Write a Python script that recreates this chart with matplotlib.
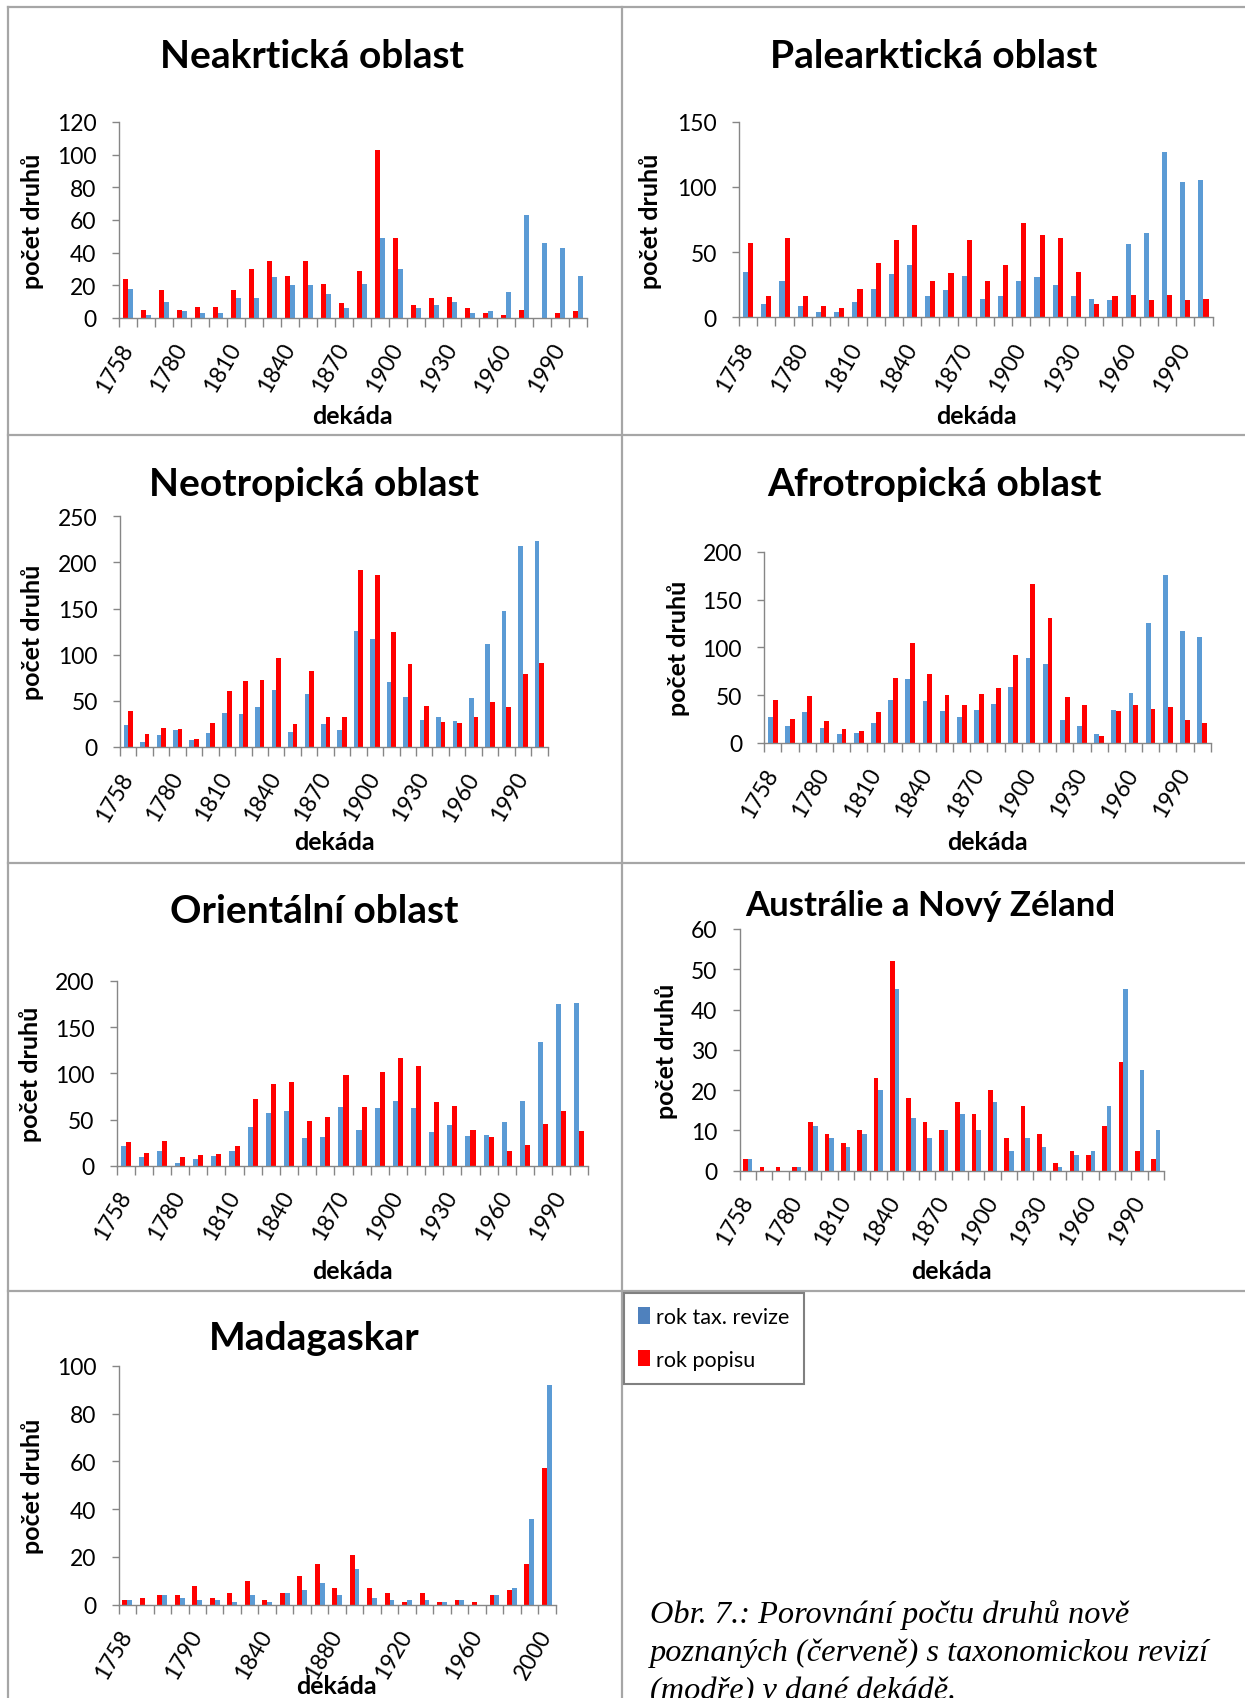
import numpy as np
import matplotlib.pyplot as plt
from matplotlib.lines import Line2D
from matplotlib.patches import Patch

W, H = 1245, 1699
plt.rcParams['font.family'] = ['Lato', 'DejaVu Sans']

# kategorie (dekády)
decades = ['1758', '1760', '1770', '1780', '1790', '1800', '1810', '1820', '1830',
           '1840', '1850', '1860', '1870', '1880', '1890', '1900', '1910', '1920',
           '1930', '1940', '1950', '1960', '1970', '1980', '1990', '2000']
mad_decades = ['1758', '1760', '1770', '1780', '1790', '1800', '1810', '1830', '1840',
               '1850', '1860', '1870', '1880', '1890', '1900', '1910', '1920', '1930',
               '1940', '1950', '1960', '1970', '1980', '1990', '2000']

# rok popisu (červeně) / rok tax. revize (modře)
neark_popis = [24, 5, 17, 5, 7, 7, 17, 30, 35, 26, 35, 21, 9, 29, 103, 49, 8, 12, 13, 6, 3, 2, 5, 0, 3, 4]
neark_revize = [18, 2, 10, 4, 3, 3, 12, 12, 25, 20, 20, 15, 6, 21, 49, 30, 6, 8, 10, 3, 4, 16, 63, 46, 43, 26]

pale_revize = [35, 10, 28, 9, 4, 4, 12, 22, 33, 40, 16, 21, 32, 14, 16, 28, 31, 25, 16, 14, 13, 56, 65, 127, 104, 105]
pale_popis = [57, 16, 61, 16, 9, 7, 22, 42, 59, 71, 28, 34, 59, 28, 40, 72, 63, 61, 35, 10, 16, 17, 13, 17, 13, 14]

neot_revize = [24, 5, 13, 18, 8, 15, 37, 36, 43, 62, 16, 57, 25, 18, 126, 117, 70, 54, 29, 33, 28, 53, 112, 147, 218, 223]
neot_popis = [39, 14, 21, 20, 9, 26, 61, 71, 73, 96, 25, 82, 33, 33, 192, 186, 125, 90, 44, 27, 26, 33, 49, 43, 79, 91]

afro_revize = [27, 18, 32, 16, 9, 10, 21, 45, 67, 44, 33, 27, 34, 41, 59, 89, 83, 24, 18, 9, 35, 52, 125, 176, 117, 111]
afro_popis = [45, 25, 49, 23, 15, 13, 32, 68, 105, 72, 50, 40, 51, 58, 92, 166, 131, 48, 40, 7, 33, 40, 36, 38, 24, 21]

orient_revize = [21, 9, 16, 3, 7, 11, 16, 42, 57, 59, 30, 31, 64, 39, 62, 70, 62, 37, 44, 32, 33, 47, 70, 134, 175, 176]
orient_popis = [26, 14, 27, 9, 12, 13, 21, 72, 89, 91, 48, 53, 98, 64, 101, 117, 108, 69, 65, 39, 31, 16, 22, 45, 59, 38]

aus_popis = [3, 1, 1, 1, 12, 9, 7, 10, 23, 52, 18, 12, 10, 17, 14, 20, 8, 16, 9, 2, 5, 4, 11, 27, 5, 3]
aus_revize = [3, 0, 0, 1, 11, 8, 6, 9, 20, 45, 13, 8, 10, 14, 10, 17, 5, 8, 6, 1, 4, 5, 16, 45, 25, 10]

mad_popis = [2, 3, 4, 4, 8, 3, 5, 10, 2, 5, 12, 17, 7, 21, 7, 5, 1, 5, 1, 2, 1, 4, 6, 17, 57]
mad_revize = [2, 0, 4, 3, 2, 2, 1, 4, 1, 5, 6, 9, 4, 15, 3, 2, 2, 2, 1, 2, 0, 4, 7, 36, 92]

BLUE = '#5B9BD5'
RED = '#FF0000'
AXC = '#868686'
BORDER = '#A6A6A6'

fig = plt.figure(figsize=(W / 100, H / 100), dpi=100)


def fx(x):
    return x / W


def fy(y):
    return 1 - y / H


def panel(box, cats, first, second, colors, ymax, ystep, every):
    left, top, right, bottom = box
    ax = fig.add_axes([fx(left), fy(bottom), (right - left) / W, (bottom - top) / H])
    n = len(cats)
    x = np.arange(n)
    w = 0.28
    ax.bar(x - w / 2, first, w, color=colors[0], zorder=2)
    ax.bar(x + w / 2, second, w, color=colors[1], zorder=2)
    ax.set_xlim(-0.5, n - 0.5)
    ax.set_ylim(0, ymax)
    ax.set_yticks(np.arange(0, ymax + 1, ystep))
    ax.set_xticks(np.arange(n + 1) - 0.5)
    ax.set_xticklabels([])
    ax.set_xticks(x[::every], minor=True)
    ax.set_xticklabels([cats[i] for i in range(0, n, every)], minor=True)
    plt.setp(ax.get_xticklabels(minor=True), rotation=60, ha='right', va='center',
             rotation_mode='anchor')
    for s in ['top', 'right']:
        ax.spines[s].set_visible(False)
    for s in ['bottom', 'left']:
        ax.spines[s].set_color(AXC)
        ax.spines[s].set_linewidth(1)
    ax.tick_params(axis='x', which='major', length=6.5, color=AXC, width=1)
    ax.tick_params(axis='x', which='minor', length=0, pad=19, labelsize=16.5)
    ax.tick_params(axis='y', length=5, color=AXC, width=1, pad=11, labelsize=16.5)
    ax.set_facecolor('none')
    return ax


def labels(title, txy, tsize, ylx, yly, xlx, xly):
    fig.text(fx(txy[0]), fy(txy[1]), title, ha='center', va='center',
             fontsize=tsize, fontweight='bold')
    fig.text(fx(ylx), fy(yly), 'počet druhů', ha='center', va='center',
             rotation=90, fontsize=18, fontweight='bold')
    fig.text(fx(xlx), fy(xly), 'dekáda', ha='center', va='center',
             fontsize=18, fontweight='bold')


panel((118.6, 123, 587, 319), decades, neark_popis, neark_revize, (RED, BLUE), 120, 20, 3)
labels('Neakrtická oblast', (312, 56), 28, 32, 221, 352, 417)

panel((739, 122.7, 1212.6, 318.3), decades, pale_revize, pale_popis, (BLUE, RED), 150, 50, 3)
labels('Palearktická oblast', (934, 56), 28, 650, 221, 976, 417)

panel((120, 517.3, 547.6, 748), decades, neot_revize, neot_popis, (BLUE, RED), 250, 50, 3)
labels('Neotropická oblast', (314, 484), 28, 33, 632, 334, 843)

panel((764.3, 552.7, 1210.7, 744), decades, afro_revize, afro_popis, (BLUE, RED), 200, 50, 3)
labels('Afrotropická oblast', (934, 484), 28, 678, 648, 987, 843)

panel((116.6, 982, 588.4, 1166.7), decades, orient_revize, orient_popis, (BLUE, RED), 200, 50, 3)
labels('Orientální oblast', (314, 912), 28, 30, 1074, 352, 1272)

panel((739.6, 930, 1164, 1171.7), decades, aus_popis, aus_revize, (RED, BLUE), 60, 10, 3)
labels('Austrálie a Nový Zéland', (930, 906), 25, 666, 1051, 951, 1272)

panel((118.6, 1366.7, 555.6, 1605.7), mad_decades, mad_popis, mad_revize, (RED, BLUE), 100, 20, 4)
labels('Madagaskar', (314, 1339), 28, 33, 1486, 336, 1687)

# rámečky panelů
segments = [
    ((8, 8), (W, 8)),
    ((8, 8), (8, H)),
    ((622, 8), (622, H)),
    ((8, 436), (W, 436)),
    ((8, 864), (W, 864)),
    ((8, 1292), (W, 1292)),
]
for (x0, y0), (x1, y1) in segments:
    fig.add_artist(Line2D([fx(x0), fx(x1)], [fy(y0), fy(y1)], color=BORDER, lw=1.6,
                          transform=fig.transFigure))

# legenda
handles = [Patch(facecolor='#4F81BD'), Patch(facecolor=RED)]
leg = fig.legend(handles, ['rok tax. revize', 'rok popisu'], loc='upper left',
                 bbox_to_anchor=(fx(624), fy(1294)), bbox_transform=fig.transFigure,
                 frameon=True, fancybox=False, edgecolor='#808080', framealpha=1,
                 handlelength=0.55, handleheight=0.8, handletextpad=0.3,
                 labelspacing=1.05, borderpad=0.65, fontsize=15.5, borderaxespad=0)
leg.get_frame().set_linewidth(1.5)

# popisek obrázku
caption = ['Obr. 7.: Porovnání počtu druhů nově',
           'poznaných (červeně) s taxonomickou revizí',
           '(modře) v dané dekádě.']
for i, line in enumerate(caption):
    fig.text(fx(650), fy(1623 + 38 * i), line, ha='left', va='baseline',
             fontsize=23.3, style='italic', family=['Liberation Serif', 'DejaVu Serif'])

fig.savefig('out.png', dpi=100)
